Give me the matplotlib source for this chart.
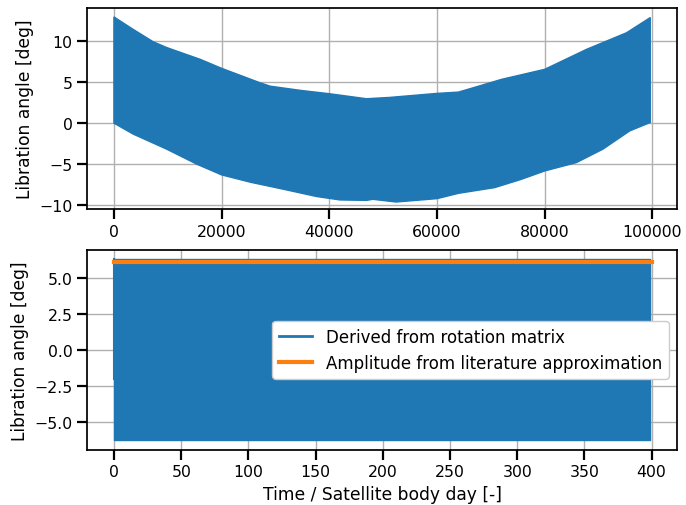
import matplotlib
matplotlib.use("Agg")
import matplotlib.pyplot as plt
from matplotlib.lines import Line2D

# ---- Data ----
# Top panel: upper / lower envelope of the dense libration oscillation vs. time [s]
top_time_up = [0, 3600, 7300, 9800, 16000, 20000, 27100, 29000, 34600, 40000,
               46900, 51200, 60000, 64000, 72000, 80000, 87800, 95200, 99600]
top_upper = [12.93, 11.4, 9.9, 9.2, 7.77, 6.67, 4.92, 4.5, 3.99, 3.58,
             2.97, 3.13, 3.62, 3.78, 5.33, 6.55, 8.99, 11.0, 12.85]

top_time_lo = [0, 3600, 9800, 15400, 20000, 25400, 31500, 37700, 42000, 46900,
               48100, 52400, 60000, 64000, 70700, 75700, 80000, 85900, 90800,
               95800, 99600]
top_lower = [0.0, -1.34, -3.17, -5.0, -6.3, -7.2, -8.05, -8.94, -9.35, -9.4,
             -9.27, -9.6, -9.19, -8.54, -7.85, -6.83, -5.82, -4.8, -3.17,
             -0.94, 0.08]

# Bottom panel: envelope of the oscillation vs. satellite body day
bot_time = [0, 399]
bot_upper = [6.3, 6.3]
bot_lower = [-6.3, -6.3]
bot_start = [-2.0, 6.3]
lit_time = [0, 400]
lit_amp = [6.1, 6.1]

blue = "#1f77b4"
orange = "#ff7f0e"

plt.rcParams.update({
    "font.family": ["DejaVu Sans"],
    "font.size": 11.3,
    "axes.labelsize": 12.3,
    "legend.fontsize": 12,
    "axes.linewidth": 1.25,
    "xtick.major.size": 7,
    "ytick.major.size": 7,
    "xtick.major.width": 1.6,
    "ytick.major.width": 1.6,
    "grid.color": "#b0b0b0",
    "grid.linewidth": 1.0,
})

fig = plt.figure(figsize=(6.86, 5.06), dpi=100)
ax1 = fig.add_axes([0.127, 0.585, 0.860, 0.397])
ax2 = fig.add_axes([0.127, 0.109, 0.860, 0.395])

# Top panel: build polygon from upper (forward) and lower (backward) envelopes
poly_x = list(top_time_up) + list(reversed(top_time_lo))
poly_y = list(top_upper) + list(reversed(top_lower))
ax1.fill(poly_x, poly_y, color=blue, linewidth=1.0, edgecolor=blue)
ax1.set_ylabel("Libration angle [deg]")
ax1.grid(True)
ax1.set_axisbelow(True)
ax1.set_xticks([0, 20000, 40000, 60000, 80000, 100000])
ax1.set_yticks([-10, -5, 0, 5, 10])
ax1.set_xlim(-4980, 104580)
ax1.set_ylim(-10.45, 14.0)

# Bottom panel
ax2.fill_between(bot_time, bot_lower, bot_upper, color=blue, linewidth=1.0,
                 edgecolor=blue)
ax2.plot([bot_time[0], bot_time[0]], bot_start, color=blue, lw=1.5)
ax2.plot(lit_time, lit_amp, color=orange, linewidth=3)
ax2.set_ylabel("Libration angle [deg]")
ax2.set_xlabel("Time / Satellite body day [-]")
ax2.grid(True)
ax2.set_axisbelow(True)
ax2.set_xticks([0, 50, 100, 150, 200, 250, 300, 350, 400])
ax2.set_yticks([-5.0, -2.5, 0.0, 2.5, 5.0])
ax2.set_xlim(-20, 419)
ax2.set_ylim(-6.95, 6.95)

handles = [Line2D([0], [0], color=blue, lw=2),
           Line2D([0], [0], color=orange, lw=3)]
ax2.legend(handles, ["Derived from rotation matrix",
                     "Amplitude from literature approximation"],
           loc="center right", framealpha=1.0)

fig.savefig("out.png", dpi=100)
